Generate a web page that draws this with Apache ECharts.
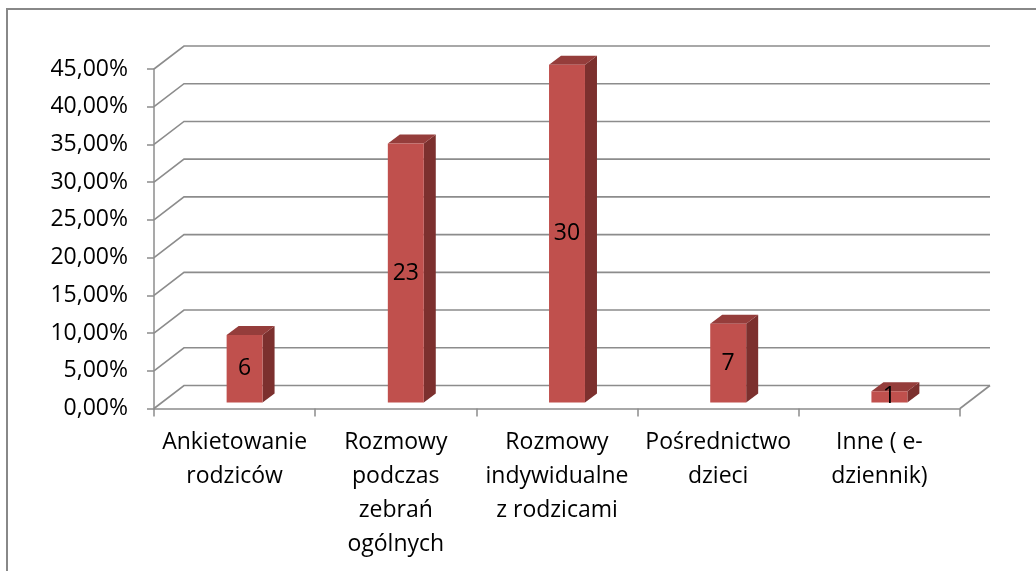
<!DOCTYPE html>
<html>
<head>
<meta charset="utf-8">
<script src="https://cdn.jsdelivr.net/npm/echarts@6/dist/echarts.min.js"></script>
<style>
  html, body { margin: 0; padding: 0; background: #ffffff; }
  #chart { width: 1036px; height: 571px; }
</style>
</head>
<body>
<div id="chart"></div>
<script>
// ---- data ----
const categories = [
  'Ankietowanie\nrodziców',
  'Rozmowy\npodczas\nzebrań\nogólnych',
  'Rozmowy\nindywidualne\nz rodzicami',
  'Pośrednictwo\ndzieci',
  'Inne ( e-\ndziennik)'
];
const percentValues = [8.96, 34.33, 44.78, 10.45, 1.49];   // bar heights, %
const countLabels = [6, 23, 30, 7, 1];                      // labels on bars
const yTicks = [0, 5, 10, 15, 20, 25, 30, 35, 40, 45];      // value axis ticks (%)

// ---- style constants ----
const FONT = '"Open Sans", "Liberation Sans", sans-serif';
const GRID_COLOR = '#8c8c8c';
const DEPTH = [30, -23];       // wall depth offset
const BAR_SHIFT = [10, -6];    // bar position inside the depth
const BAR_DEPTH = [12, -9];    // bar's own depth
const FRONT = '#c0504d', TOP = '#953d3b', SIDE = '#7c302e';

const chart = echarts.init(document.getElementById('chart'), null, { renderer: 'canvas' });

const option = {
  backgroundColor: '#ffffff',
  animation: false,
  graphic: [{
    type: 'rect', z: -10,
    shape: { x: 7, y: 9, width: 1100, height: 700 },
    style: { fill: 'none', stroke: '#888888', lineWidth: 2 }
  }],
  grid: { left: 154, right: 76, top: 69, bottom: 162.5, containLabel: false },
  xAxis: {
    type: 'category',
    data: categories,
    axisLine: { show: true, lineStyle: { color: GRID_COLOR, width: 1.5 } },
    axisTick: { show: true, length: 8, lineStyle: { color: GRID_COLOR, width: 1.5 } },
    axisLabel: {
      interval: 0, margin: 17, color: '#000000',
      fontFamily: FONT, fontSize: 23, lineHeight: 34
    },
    splitLine: { show: false }
  },
  yAxis: {
    type: 'value', min: 0, max: 45, interval: 5,
    axisLine: { show: true, lineStyle: { color: GRID_COLOR, width: 1.5 } },
    axisTick: { show: true, length: 7, lineStyle: { color: GRID_COLOR, width: 1.5 } },
    axisLabel: {
      margin: 26, color: '#000000', fontFamily: FONT, fontSize: 23,
      formatter: v => v.toFixed(2).replace('.', ',') + '%'
    },
    splitLine: { show: false }
  },
  series: [
    {
      // back wall gridlines + floor
      type: 'custom',
      z: 1,
      silent: true,
      data: yTicks.map(v => [0, v]),
      renderItem: function (params, api) {
        const cs = params.coordSys;
        const y = api.coord([0, api.value(1)])[1];
        const x0 = cs.x, x1 = cs.x + cs.width;
        const children = [{
          type: 'polyline',
          shape: { points: [[x0, y], [x0 + DEPTH[0], y + DEPTH[1]], [x1 + DEPTH[0], y + DEPTH[1]]] },
          style: { stroke: GRID_COLOR, lineWidth: 1.6, fill: 'none' }
        }];
        if (api.value(1) === 0) {
          children.push({
            type: 'line',
            shape: { x1: x1, y1: y, x2: x1 + DEPTH[0], y2: y + DEPTH[1] },
            style: { stroke: GRID_COLOR, lineWidth: 1.6 }
          });
        }
        return { type: 'group', children: children };
      }
    },
    {
      // 3D-looking bars
      type: 'custom',
      z: 5,
      data: percentValues.map((v, i) => [i, v, countLabels[i]]),
      renderItem: function (params, api) {
        const idx = api.value(0), val = api.value(1);
        const base = api.coord([idx, 0]);
        const top = api.coord([idx, val]);
        const catW = api.size([1, 0])[0];
        const w = catW * 0.223;
        const cx = base[0] + BAR_SHIFT[0];
        const by = base[1] + BAR_SHIFT[1];
        const ty = top[1] + BAR_SHIFT[1];
        const l = cx - w / 2, r = cx + w / 2;
        const dx = BAR_DEPTH[0], dy = BAR_DEPTH[1];
        return {
          type: 'group',
          children: [
            { type: 'polygon', shape: { points: [[r, ty], [r + dx, ty + dy], [r + dx, by + dy], [r, by]] },
              style: { fill: SIDE } },
            { type: 'polygon', shape: { points: [[l, ty], [r, ty], [r + dx, ty + dy], [l + dx, ty + dy]] },
              style: { fill: TOP } },
            { type: 'rect', shape: { x: l, y: ty, width: w, height: by - ty },
              style: { fill: FRONT } },
            { type: 'text', z2: 10,
              style: { x: cx, y: (ty + by) / 2, text: String(api.value(2)),
                       fill: '#000000', font: '23px ' + FONT,
                       textAlign: 'center', textVerticalAlign: 'middle' } }
          ]
        };
      }
    }
  ]
};
chart.setOption(option);
</script>
</body>
</html>
